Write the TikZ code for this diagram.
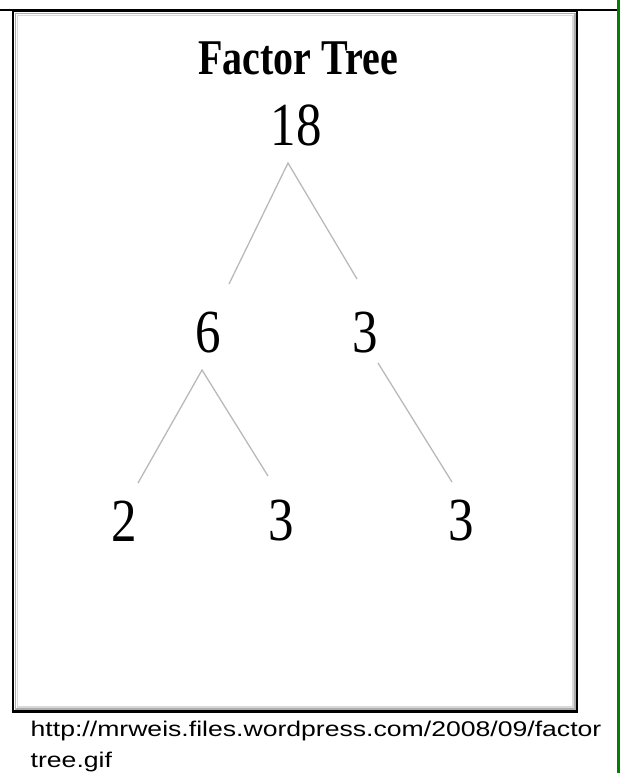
\documentclass[tikz,border=0pt]{standalone}
\usepackage{fontspec}
\usepackage{graphicx}
\setmainfont{Liberation Serif}
\newfontfamily\urlfont{Liberation Sans}
\newcommand\tall[1]{\scalebox{1}[1.2]{#1}}

\begin{document}
\begin{tikzpicture}[x=1pt,y=-1pt,
  num/.style={inner sep=0pt,font=\fontsize{51}{51}\selectfont},
  branch/.style={draw=gray!55,line width=1.3pt},
  urltext/.style={inner sep=0pt,anchor=base west,font=\urlfont\fontsize{26.6}{30}\selectfont}]
  \useasboundingbox (0,0) rectangle (620,773);
  % page rules and picture frame
  \draw[line width=2.2pt] (0,10) -- (618,10);
  \draw[green!50!black,line width=2.6pt] (618.7,0) -- (618.7,773);
  \draw[gray!30,line width=1.5pt] (17.5,15.5) rectangle (573,707);
  \draw[gray!65,line width=1.5pt] (15.5,13.5) rectangle (575,709);
  \draw[line width=2.2pt] (13.3,11) rectangle (577,711.5);
  % title and numbers
  \node[inner sep=0pt,anchor=base,font=\bfseries\fontsize{40}{40}\selectfont] (title) at (298,75) {\scalebox{1}[1.25]{Factor Tree}};
  \node[num] (n18) at (296,125) {\tall{18}};
  \node[num] (n6) at (208,333) {\tall{6}};
  \node[num] (n3a) at (365,333) {\tall{3}};
  \node[num] (n2) at (124,521) {\tall{2}};
  \node[num] (n3b) at (281,521) {\tall{3}};
  \node[num] (n3c) at (461,521) {\tall{3}};
  % branch ends
  \coordinate (top18) at (288,163);
  \coordinate (end6) at (229,284);
  \coordinate (end3a) at (357,279);
  \coordinate (top6) at (202,370);
  \coordinate (end2) at (138,483);
  \coordinate (end3b) at (268,476);
  \coordinate (top3a) at (378,363);
  \coordinate (end3c) at (452,482);
  \draw[branch] (end6) -- (top18) -- (end3a);
  \draw[branch] (end2) -- (top6) -- (end3b);
  \draw[branch] (top3a) -- (end3c);
  % source
  \node[urltext] (url1) at (30.5,736.5) {\scalebox{1}[0.8]{http://mrweis.files.wordpress.com/2008/09/factor}};
  \node[urltext] (url2) at (30.5,767) {\scalebox{1}[0.8]{tree.gif}};
\end{tikzpicture}
\end{document}
